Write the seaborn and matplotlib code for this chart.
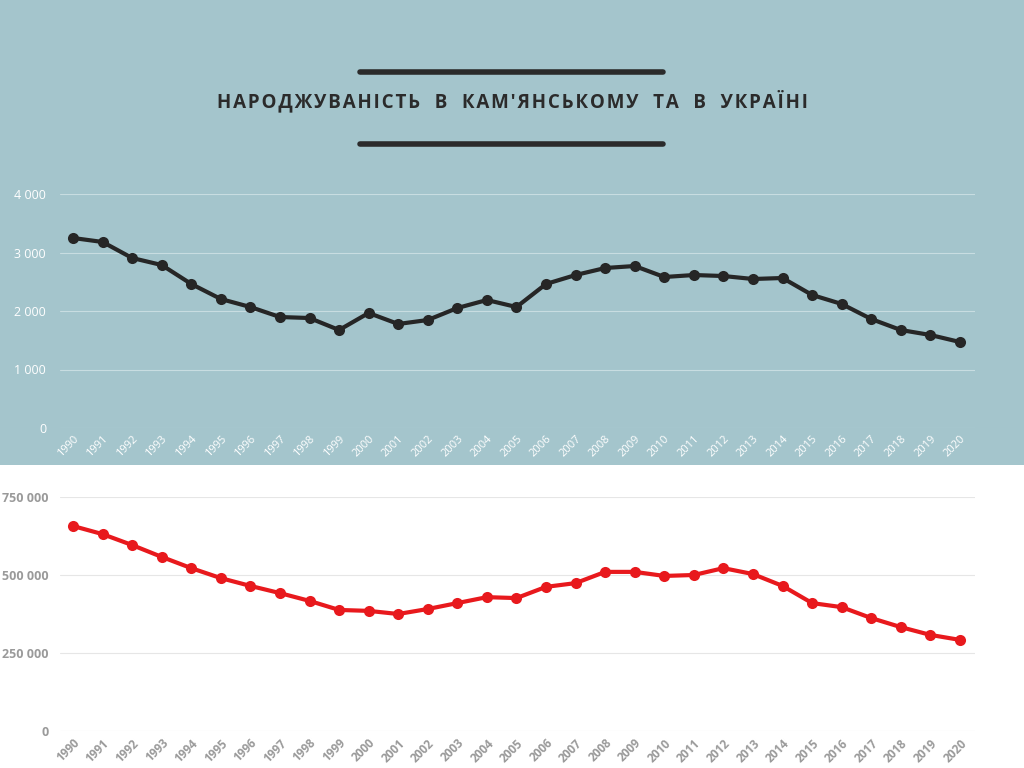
import matplotlib
matplotlib.use("Agg")
import matplotlib.pyplot as plt
import seaborn as sns
import pandas as pd
from matplotlib.patches import Rectangle
from matplotlib.lines import Line2D

years = list(range(1990, 2021))
kamianske = [3248, 3180, 2906, 2786, 2462, 2205, 2068, 1897, 1880, 1675, 1966, 1778, 1846,
             2051, 2188, 2068, 2462, 2615, 2735, 2769, 2581, 2615, 2598, 2547, 2564, 2274,
             2120, 1863, 1675, 1590, 1470]
ukraine = [657000, 631000, 596000, 558000, 522000, 490000, 465000, 442000, 417000, 388000,
           385000, 375000, 391000, 410000, 429000, 426000, 462000, 474000, 510000, 510000,
           497000, 500000, 522000, 503000, 465000, 410000, 397000, 362000, 333000, 308000, 292000]
title = "НАРОДЖУВАНІСТЬ В КАМ'ЯНСЬКОМУ ТА В УКРАЇНІ"

sns.set_theme(style="white")
plt.rcParams['font.family'] = ['Open Sans', 'DejaVu Sans']

W, H = 1024, 768
fig = plt.figure(figsize=(10.24, 7.68), dpi=100)
fig.patch.set_facecolor("white")
fig.add_artist(Rectangle((0, (H - 465) / H), 1, 465 / H, transform=fig.transFigure,
                         facecolor="#a4c5cc", edgecolor="none", zorder=0))

# title with bars
for yy in (72, 144):
    fig.add_artist(Line2D([360 / W, 663 / W], [1 - yy / H, 1 - yy / H], transform=fig.transFigure,
                          color="#2b2b2b", lw=4))
spaced = "   ".join("\u200a".join(w) for w in title.split(" "))
fig.text(512 / W, 1 - 101 / H, spaced, ha="center", va="center", fontsize=13.5,
         fontweight="bold", color="#2b2b2b", family=['Open Sans', 'DejaVu Sans'])

def make_ax(top_px, bottom_px):
    ax = fig.add_axes([60 / W, 1 - bottom_px / H, 915 / W, (bottom_px - top_px) / H])
    ax.patch.set_alpha(0)
    ax.set_xlim(1989.56, 2020.51)
    for s in ax.spines.values():
        s.set_visible(False)
    return ax

df = pd.DataFrame({"year": years, "k": kamianske, "u": ukraine})

ax1 = make_ax(194, 428)
sns.lineplot(data=df, x="year", y="k", ax=ax1, color="#262626", lw=3, marker="o",
             markersize=8, markeredgewidth=0, clip_on=False)
ax1.set_ylim(0, 4000)
ax1.set_yticks([0, 1000, 2000, 3000, 4000])
ax1.set_yticklabels(["0", "1 000", "2 000", "3 000", "4 000"])
ax1.grid(axis="y", color="#c8dde1", lw=0.8)
ax1.tick_params(axis="y", colors="white", labelsize=9, length=0, pad=10)
ax1.set_xticks(years)
ax1.set_xticklabels(years, rotation=45, ha="right", rotation_mode="anchor")
ax1.tick_params(axis="x", colors="white", labelsize=8, length=0, pad=4)
ax1.set_xlabel("")
ax1.set_ylabel("")

ax2 = make_ax(497, 731)
sns.lineplot(data=df, x="year", y="u", ax=ax2, color="#e8191d", lw=3, marker="o",
             markersize=8, markeredgewidth=0, clip_on=False)
ax2.set_ylim(0, 750000)
ax2.set_yticks([0, 250000, 500000, 750000])
ax2.set_yticklabels(["0", "250 000", "500 000", "750 000"])
ax2.grid(axis="y", color="#e6e6e6", lw=0.8)
ax2.tick_params(axis="y", colors="#9a9a9a", labelsize=9, length=0, pad=8)
for t in ax2.get_yticklabels():
    t.set_fontweight("bold")
ax2.set_xticks(years)
ax2.set_xticklabels(years, rotation=45, ha="right", rotation_mode="anchor")
ax2.tick_params(axis="x", colors="#9a9a9a", labelsize=8.5, length=0, pad=4)
for t in ax2.get_xticklabels():
    t.set_fontweight("bold")
ax2.set_xlabel("")
ax2.set_ylabel("")

fig.savefig("out.png", dpi=100)
